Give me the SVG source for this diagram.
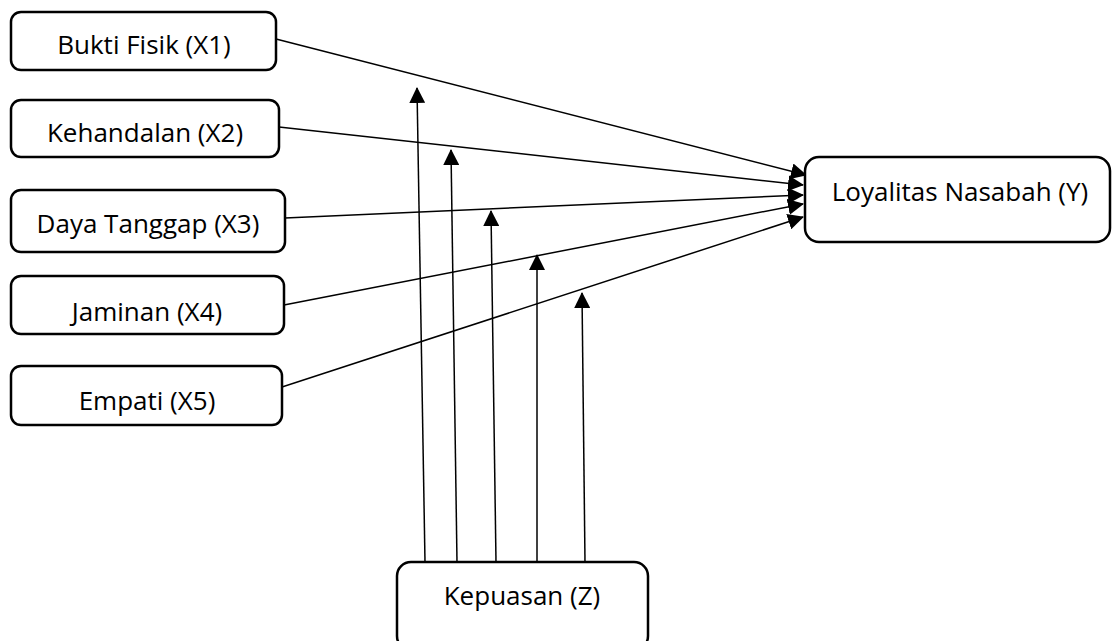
<svg xmlns="http://www.w3.org/2000/svg" width="1112" height="641" viewBox="0 0 1112 641">
<style>
.box{fill:#fff;stroke:#000;stroke-width:2.5}
.lbl{font-family:"Open Sans","Liberation Sans",sans-serif;font-size:26px;fill:#000;text-anchor:middle}
.con{stroke:#000;stroke-width:1.5;fill:none;marker-end:url(#ah)}
</style>
<defs>
<marker id="ah" markerUnits="userSpaceOnUse" markerWidth="16" markerHeight="16" viewBox="0 0 16 16" refX="15" refY="8" orient="auto">
<path d="M0,0 L16,8 L0,16 Z" fill="#000"/>
</marker>
</defs>
<g id="connectors">
<line class="con" x1="276" y1="39" x2="806" y2="175"/>
<line class="con" x1="279" y1="127" x2="803" y2="185"/>
<line class="con" x1="285" y1="218" x2="803" y2="195"/>
<line class="con" x1="284" y1="305" x2="803" y2="204"/>
<line class="con" x1="282" y1="387" x2="803" y2="217"/>
<line class="con" x1="425" y1="562" x2="417" y2="88"/>
<line class="con" x1="457" y1="562" x2="451" y2="150"/>
<line class="con" x1="496" y1="562" x2="491" y2="211"/>
<line class="con" x1="537" y1="562" x2="537" y2="255"/>
<line class="con" x1="585" y1="562" x2="582" y2="293"/>
</g>
<g id="x1"><rect class="box" x="11" y="12" width="265" height="58" rx="10"/><text class="lbl" x="144" y="54">Bukti Fisik (X1)</text></g>
<g id="x2"><rect class="box" x="11" y="100" width="268" height="57" rx="10"/><text class="lbl" x="145" y="142">Kehandalan (X2)</text></g>
<g id="x3"><rect class="box" x="11" y="190" width="274" height="62" rx="10"/><text class="lbl" x="148" y="233">Daya Tanggap (X3)</text></g>
<g id="x4"><rect class="box" x="11" y="276" width="273" height="58" rx="10"/><text class="lbl" x="147" y="321">Jaminan (X4)</text></g>
<g id="x5"><rect class="box" x="11" y="366" width="271" height="59" rx="10"/><text class="lbl" x="147" y="410">Empati (X5)</text></g>
<g id="y"><rect class="box" x="805" y="157" width="305" height="85" rx="14"/><text class="lbl" x="960" y="201">Loyalitas Nasabah (Y)</text></g>
<g id="z"><rect class="box" x="397" y="562" width="251" height="88" rx="14"/><text class="lbl" x="522" y="605">Kepuasan (Z)</text></g>
</svg>
